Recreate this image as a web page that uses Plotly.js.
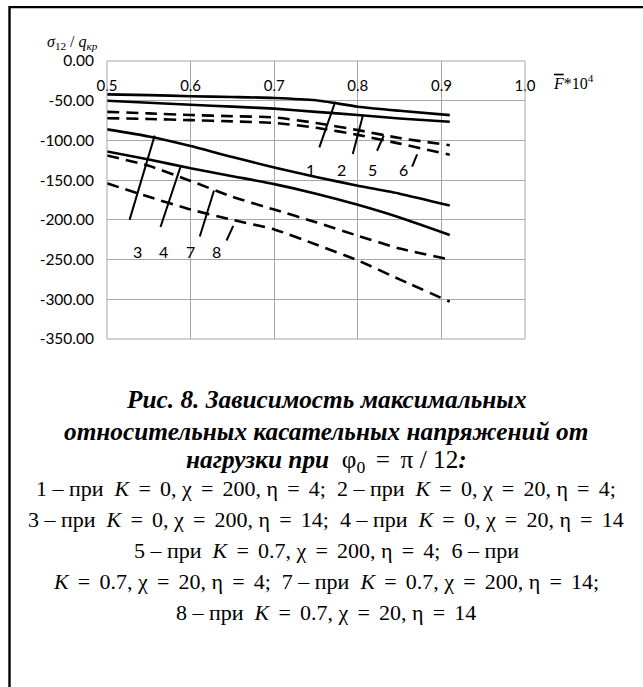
<!DOCTYPE html>
<html>
<head>
<meta charset="utf-8">
<script src="https://cdn.plot.ly/plotly-3.0.1.min.js"></script>
<style>html,body{margin:0;padding:0;background:#fff;}#chart{width:643px;height:687px;}</style>
</head>
<body>
<div id="chart"></div>
<script>
// ---- data ----
const xVals = [0.5, 0.55, 0.6, 0.65, 0.7, 0.75, 0.8, 0.85, 0.91];
const curve1 = [-42, -43, -44.3, -45.3, -46.5, -49.5, -57.5, -62.7, -68.2];
const curve2 = [-50, -52.5, -55, -57.5, -60, -64, -68, -72.4, -76.5];
const curve3 = [-86, -95, -107, -121, -134, -146, -157, -167, -182];
const curve4 = [-114, -124, -135, -145, -155, -167, -181, -197, -219];
const curve5 = [-64, -66, -68, -69.5, -71, -78, -87, -97, -106];
const curve6 = [-72, -73, -74.5, -76, -78, -84, -93, -104, -118];
const curve7 = [-119, -132, -151, -171, -187, -203, -220, -236, -250];
const curve8 = [-154, -171, -187, -200, -212, -231, -251, -275, -303];

const xTicks = [0.5, 0.6, 0.7, 0.8, 0.9, 1.0];
const xTickText = ['0.5', '0.6', '0.7', '0.8', '0.9', '1.0'];
const yTicks = [0, -50, -100, -150, -200, -250, -300, -350];

const curveLabels = ['1', '2', '5', '6', '3', '4', '7', '8'];
const labelX = [0.743, 0.780, 0.8175, 0.8545, 0.536, 0.567, 0.600, 0.6315];
const labelY = [-137, -137, -137, -137, -240, -240, -240, -240];
// leader lines [x0, y0, x1, y1]
const leaders = [
  [0.754, -108.7, 0.773, -51.5],
  [0.794, -117, 0.806, -69],
  [0.823, -113, 0.831, -94],
  [0.865, -133, 0.871, -117.5],
  [0.527, -200, 0.557, -94],
  [0.564, -209, 0.588, -133],
  [0.611, -221, 0.628, -163],
  [0.643, -226, 0.651, -207.5]
];

const E = '\u2004\u200a=\u2004\u200a';
const captionLines = [
  '<b><i>Рис. 8. Зависимость максимальных</i></b>',
  '<b><i>относительных касательных напряжений от</i></b>',
  '<b><i>нагрузки при</i></b>\u00a0 φ<sub>0</sub>' + E + 'π / 12<b><i>:</i></b>'
];
const legendLines = [
  '1 – при\u00a0 <i>K</i>' + E + '0, χ' + E + '200, η' + E + '4;\u00a0 2 – при\u00a0 <i>K</i>' + E + '0, χ' + E + '20, η' + E + '4;',
  '3 – при\u00a0 <i>K</i>' + E + '0, χ' + E + '200, η' + E + '14;\u00a0 4 – при\u00a0 <i>K</i>' + E + '0, χ' + E + '20, η' + E + '14',
  '5 – при\u00a0 <i>K</i>' + E + '0.7, χ' + E + '200, η' + E + '4;\u00a0 6 – при',
  '<i>K</i>' + E + '0.7, χ' + E + '20, η' + E + '4;\u00a0 7 – при\u00a0 <i>K</i>' + E + '0.7, χ' + E + '200, η' + E + '14;',
  '8 – при\u00a0 <i>K</i>' + E + '0.7, χ' + E + '20, η' + E + '14'
];

// ---- layout geometry ----
const W = 643, H = 687;
const L = 107, R = 525, T = 61, B = 339;
const px2x = p => (p - L) / (R - L);
const px2y = p => (B - p) / (B - T);
const grid = '#a6a6a6';
const serif = 'Liberation Serif, Times New Roman, serif';
const sans = 'Lato, Open Sans, sans-serif';

const solid = {color: '#000', width: 2.6};
const dashed = {color: '#000', width: 2.6, dash: '12px,7px'};
function tr(y, line) {
  return {x: xVals, y: y, mode: 'lines', type: 'scatter', line: Object.assign({shape: 'spline', smoothing: 0.6}, line), hoverinfo: 'skip', showlegend: false};
}
const data = [
  tr(curve1, solid), tr(curve2, solid), tr(curve3, solid), tr(curve4, solid),
  tr(curve5, dashed), tr(curve6, dashed), tr(curve7, dashed), tr(curve8, dashed)
];

const shapes = [
  {type: 'rect', xref: 'paper', yref: 'paper', x0: 0, x1: 1, y0: 0, y1: 1, line: {color: grid, width: 1}},
  {type: 'line', xref: 'paper', yref: 'paper', x0: px2x(9.5), x1: px2x(645), y0: px2y(7.2), y1: px2y(7.2), line: {color: '#000', width: 2.2}},
  {type: 'line', xref: 'paper', yref: 'paper', x0: px2x(9.5), x1: px2x(9.5), y0: px2y(6.1), y1: px2y(690), line: {color: '#000', width: 2.4}}
];
leaders.forEach(s => shapes.push({type: 'line', xref: 'x', yref: 'y', x0: s[0], y0: s[1], x1: s[2], y1: s[3], line: {color: '#000', width: 2}}));

const annotations = [];
function ann(x, y, text, font, xref, yref) {
  annotations.push({x: x, y: y, xref: xref || 'paper', yref: yref || 'paper', text: text, showarrow: false,
    xanchor: 'center', yanchor: 'middle', font: font});
}
curveLabels.forEach((t, i) => ann(labelX[i], labelY[i], t, {family: sans, size: 16, color: '#000'}, 'x', 'y'));
ann(px2x(72), px2y(43), '<i>σ</i><sub>12</sub> / <i>q</i><sub><i>кр</i></sub>', {family: serif, size: 16, color: '#000'});
ann(px2x(573), px2y(82), '<span style="text-decoration:overline"><i>F</i></span>*10<sup>4</sup>', {family: serif, size: 16, color: '#000'});
const capY = [399, 431, 461];
captionLines.forEach((t, i) => ann(px2x(326), px2y(capY[i]), t, {family: serif, size: 25.3, color: '#000'}));
const legY = [488, 519, 550, 581, 612];
legendLines.forEach((t, i) => ann(px2x(326), px2y(legY[i]), t, {family: serif, size: 22, color: '#000'}));

const layout = {
  width: W, height: H,
  margin: {l: L, r: W - R, t: T, b: H - B, autoexpand: false},
  paper_bgcolor: '#fff', plot_bgcolor: '#fff',
  showlegend: false,
  xaxis: {
    range: [0.5, 1.0], tickvals: xTicks, ticktext: xTickText,
    anchor: 'free', position: 1, side: 'bottom',
    showgrid: true, gridcolor: grid, gridwidth: 1, zeroline: false, showline: false,
    ticks: '', ticklabelstandoff: 14,
    tickfont: {family: sans, size: 15, color: '#000'}, fixedrange: true
  },
  yaxis: {
    range: [-350, 0], tickvals: yTicks, ticktext: yTicks.map(v => v.toFixed(2)),
    showgrid: true, gridcolor: grid, gridwidth: 1, zeroline: false, showline: false,
    ticks: '', ticklabelstandoff: 12,
    tickfont: {family: sans, size: 15.5, color: '#000'}, fixedrange: true
  },
  shapes: shapes,
  annotations: annotations
};

Plotly.newPlot('chart', data, layout, {displayModeBar: false, staticPlot: true});
</script>
</body>
</html>
